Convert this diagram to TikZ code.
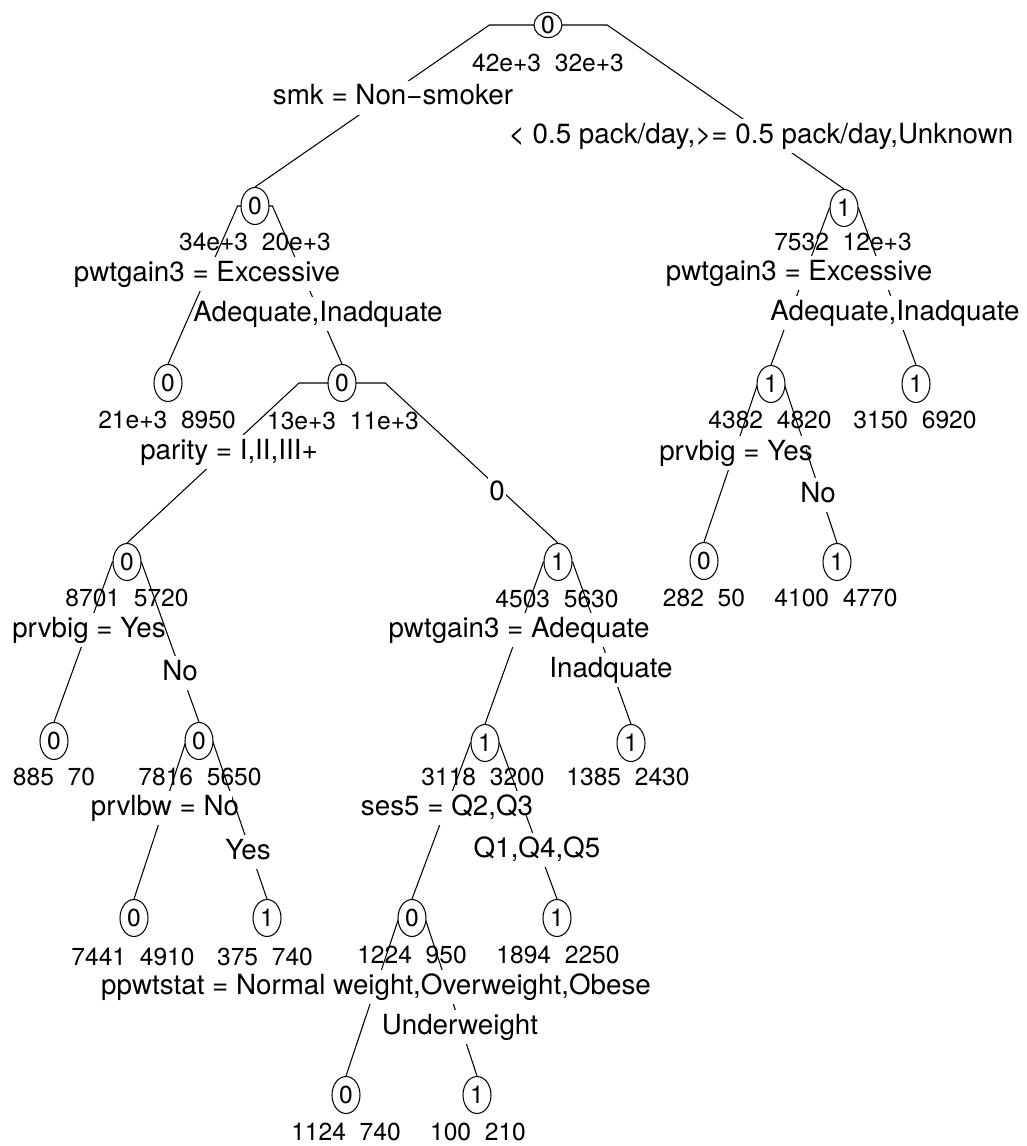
\documentclass[tikz,border=0pt]{standalone}
\usepackage{fontspec}
\setmainfont{TeX Gyre Heros}
\usepackage{tikz}
\usetikzlibrary{shapes, arrows, positioning, calc, backgrounds}

\begin{document}
\begin{tikzpicture}[x=0.02cm, y=-0.02cm,
    cls/.style={ellipse, draw, fill=white, line width=0.6pt, inner sep=0pt,
      minimum width=0.56cm, minimum height=0.74cm, font=\fontsize{14}{16}\selectfont},
    cnt/.style={inner sep=0pt, font=\fontsize{14}{16}\selectfont},
    lbl/.style={fill=white, inner xsep=-4pt, inner ysep=0.08cm, text height=0.4cm,
      text depth=0.12cm, font=\fontsize{15.8}{18}\selectfont},
    edgeline/.style={line width=0.6pt}]
        \useasboundingbox (0,0) rectangle (1027,1146);
        % Noeuds
        \node[cls, minimum height=0.5cm] (n1) at (548,25) {0};
        \node[cls] (n2) at (255,206) {0};
        \node[cls] (n3) at (844,208) {1};
        \node[cls] (n4) at (168,383) {0};
        \node[cls] (n5) at (342,383) {0};
        \node[cls] (n6) at (771,384) {1};
        \node[cls] (n7) at (916,384) {1};
        \node[cls] (n8) at (127,562) {0};
        \node[cls] (n9) at (558,562) {1};
        \node[cls] (n10) at (704,561) {0};
        \node[cls] (n11) at (837,562) {1};
        \node[cls] (n12) at (54,741) {0};
        \node[cls] (n13) at (199,741) {0};
        \node[cls] (n14) at (485,743) {1};
        \node[cls] (n15) at (631,743) {1};
        \node[cls] (n16) at (134,918) {0};
        \node[cls] (n17) at (267,918) {1};
        \node[cls] (n18) at (412,918) {0};
        \node[cls] (n19) at (557,918) {1};
        \node[cls] (n20) at (346,1095) {0};
        \node[cls] (n21) at (477,1095) {1};
        % Effectifs
        \node[cnt] (c1) at (548,63) {42e+3~~32e+3};
        \node[cnt] (c2) at (255,242) {34e+3~~20e+3};
        \node[cnt] (c3) at (843,242) {7532~~12e+3};
        \node[cnt] (c4) at (167,420) {21e+3~~8950};
        \node[cnt] (c5) at (343,421) {13e+3~~11e+3};
        \node[cnt] (c6) at (770,420) {4382~~4820};
        \node[cnt] (c7) at (915,420) {3150~~6920};
        \node[cnt] (c8) at (127,598) {8701~~5720};
        \node[cnt] (c9) at (557,599) {4503~~5630};
        \node[cnt] (c10) at (704,598) {282~~50};
        \node[cnt] (c11) at (836,598) {4100~~4770};
        \node[cnt] (c12) at (54,777) {885~~70};
        \node[cnt] (c13) at (200,777) {7816~~5650};
        \node[cnt] (c14) at (483,777) {3118~~3200};
        \node[cnt] (c15) at (628,777) {1385~~2430};
        \node[cnt] (c16) at (133,957) {7441~~4910};
        \node[cnt] (c17) at (265,957) {375~~740};
        \node[cnt] (c18) at (412,955) {1224~~950};
        \node[cnt] (c19) at (558,955) {1894~~2250};
        \node[cnt] (c20) at (346,1132) {1124~~740};
        \node[cnt] (c21) at (478,1132) {100~~210};
        % Coupures
        \node[lbl] (sp1l) at (393,98) {smk = Non−smoker};
        \node[lbl] (sp1r) at (761,136) {< 0.5 pack/day,>= 0.5 pack/day,Unknown};
        \node[lbl] (sp2l) at (207,274) {pwtgain3 = Excessive};
        \node[lbl] (sp2r) at (318,314) {Adequate,Inadquate};
        \node[lbl] (sp3l) at (799,273) {pwtgain3 = Excessive};
        \node[lbl] (sp3r) at (895,313) {Adequate,Inadquate};
        \node[lbl] (sp5l) at (229,452) {parity = I,II,III+};
        \node[lbl, inner xsep=1pt] (sp5r) at (497,493) {0};
        \node[lbl] (sp6l) at (736,453) {prvbig = Yes};
        \node[lbl] (sp6r) at (818,495) {No};
        \node[lbl] (sp8l) at (89,630) {prvbig = Yes};
        \node[lbl] (sp8r) at (180,673) {No};
        \node[lbl] (sp9l) at (519,630) {pwtgain3 = Adequate};
        \node[lbl] (sp9r) at (611,670) {Inadquate};
        \node[lbl] (sp13l) at (165,808) {prvlbw = No};
        \node[lbl] (sp13r) at (248,852) {Yes};
        \node[lbl] (sp14l) at (447,808) {ses5 = Q2,Q3};
        \node[lbl] (sp14r) at (537,850) {Q1,Q4,Q5};
        \node[lbl] (sp18l) at (376,987) {ppwtstat = Normal weight,Overweight,Obese};
        \node[lbl] (sp18r) at (460,1027) {Underweight};
        % Branches
        \begin{scope}[on background layer]
        \foreach \src/\dst in {n1/n2, n1/n3, n2/n4, n2/n5, n3/n6, n3/n7, n5/n8, n5/n9,
            n6/n10, n6/n11, n8/n12, n8/n13, n9/n14, n9/n15, n13/n16, n13/n17,
            n14/n18, n14/n19, n18/n20, n18/n21}
          \draw[edgeline] let \p1=(\src.center), \p2=(\dst.center) in
            (\p1) -- ({\x1+0.2*(\x2-\x1)},\y1) -- (\dst.north);
        \end{scope}
    \end{tikzpicture}
\end{document}
